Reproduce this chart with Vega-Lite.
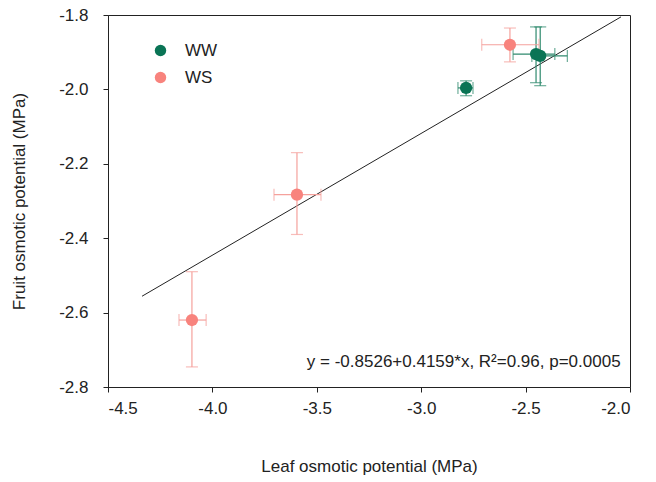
{
  "$schema": "https://vega.github.io/schema/vega-lite/v6.json",
  "autosize": "none",
  "width": 522,
  "height": 372,
  "padding": {"left": 108, "top": 15, "right": 26, "bottom": 95},
  "background": "white",
  "config": {
    "font": "Liberation Sans",
    "view": {"stroke": "#222", "strokeWidth": 1},
    "axis": {
      "grid": false, "domainColor": "#222", "tickColor": "#222", "tickSize": 5,
      "labelFont": "Liberation Sans", "labelFontSize": 17, "labelColor": "#222",
      "titleFont": "Liberation Sans", "titleFontSize": 17, "titleFontWeight": "normal", "titleColor": "#222"
    }
  },
  "resolve": {"scale": {"color": "independent"}},
  "datasets": {
    "pts": [
      {"group": "WW", "x": -2.785, "y": -1.996, "xlo": -2.824, "xhi": -2.752, "ylo": -2.017, "yhi": -1.977},
      {"group": "WW", "x": -2.45, "y": -1.905, "xlo": -2.56, "xhi": -2.36, "ylo": -1.982, "yhi": -1.832},
      {"group": "WW", "x": -2.43, "y": -1.91, "xlo": -2.47, "xhi": -2.30, "ylo": -1.99, "yhi": -1.832},
      {"group": "WS", "x": -2.575, "y": -1.88, "xlo": -2.71, "xhi": -2.436, "ylo": -1.926, "yhi": -1.835},
      {"group": "WS", "x": -3.595, "y": -2.283, "xlo": -3.705, "xhi": -3.48, "ylo": -2.39, "yhi": -2.17},
      {"group": "WS", "x": -4.098, "y": -2.62, "xlo": -4.16, "xhi": -4.03, "ylo": -2.746, "yhi": -2.49}
    ],
    "fit": [
      {"x": -4.337, "y": -2.556},
      {"x": -2.043, "y": -1.805}
    ],
    "label": [
      {"x": -2.045, "y": -2.733, "text": "y = -0.8526+0.4159*x, R²=0.96, p=0.0005"}
    ]
  },
  "layer": [
    {
      "data": {"name": "fit"},
      "mark": {"type": "line", "color": "#222", "strokeWidth": 1},
      "encoding": {
        "x": {"field": "x", "type": "quantitative", "title": "Leaf osmotic potential (MPa)", "scale": {"domain": [-4.5, -2.0], "nice": false, "zero": false},
              "axis": {"values": [-4.5, -4.0, -3.5, -3.0, -2.5, -2.0], "format": ".1f", "labelExpr": "replace(datum.label, '−', '-')", "labelPadding": 8, "titlePadding": 42}},
        "y": {"field": "y", "type": "quantitative", "title": "Fruit osmotic potential (MPa)", "scale": {"domain": [-2.8, -1.8], "nice": false, "zero": false},
              "axis": {"values": [-2.8, -2.6, -2.4, -2.2, -2.0, -1.8], "format": ".1f", "labelExpr": "replace(datum.label, '−', '-')", "labelPadding": 15, "titlePadding": 30}}
      }
    },
    {
      "data": {"name": "pts"},
      "mark": {"type": "errorbar", "ticks": {"size": 12}, "thickness": 1.2},
      "encoding": {
        "x": {"field": "x", "type": "quantitative", "title": "Leaf osmotic potential (MPa)"},
        "y": {"field": "ylo", "type": "quantitative", "title": "Fruit osmotic potential (MPa)"},
        "y2": {"field": "yhi"},
        "color": {"field": "group", "type": "nominal", "scale": {"domain": ["WW", "WS"], "range": ["#2f8a6e", "#f5a19c"]}, "legend": null}
      }
    },
    {
      "data": {"name": "pts"},
      "mark": {"type": "errorbar", "ticks": {"size": 12}, "thickness": 1.2},
      "encoding": {
        "y": {"field": "y", "type": "quantitative", "title": "Fruit osmotic potential (MPa)"},
        "x": {"field": "xlo", "type": "quantitative", "title": "Leaf osmotic potential (MPa)"},
        "x2": {"field": "xhi"},
        "color": {"field": "group", "type": "nominal", "scale": {"domain": ["WW", "WS"], "range": ["#2f8a6e", "#f5a19c"]}, "legend": null}
      }
    },
    {
      "data": {"name": "pts"},
      "mark": {"type": "point", "filled": true, "opacity": 1, "size": 150},
      "encoding": {
        "x": {"field": "x", "type": "quantitative", "title": "Leaf osmotic potential (MPa)"},
        "y": {"field": "y", "type": "quantitative", "title": "Fruit osmotic potential (MPa)"},
        "color": {"field": "group", "type": "nominal", "scale": {"domain": ["WW", "WS"], "range": ["#0a7455", "#f8837d"]},
                  "legend": {"title": null, "orient": "none", "legendX": 44, "legendY": 27, "labelFontSize": 17, "labelFont": "Liberation Sans", "labelColor": "#222", "symbolType": "circle", "symbolSize": 130, "symbolStrokeWidth": 0, "symbolOpacity": 1, "labelOffset": 16, "rowPadding": 9}}
      }
    },
    {
      "data": {"name": "label"},
      "mark": {"type": "text", "align": "right", "baseline": "middle", "fontSize": 17, "font": "Liberation Sans", "color": "#222"},
      "encoding": {
        "x": {"field": "x", "type": "quantitative"},
        "y": {"field": "y", "type": "quantitative"},
        "text": {"field": "text"}
      }
    }
  ]
}
